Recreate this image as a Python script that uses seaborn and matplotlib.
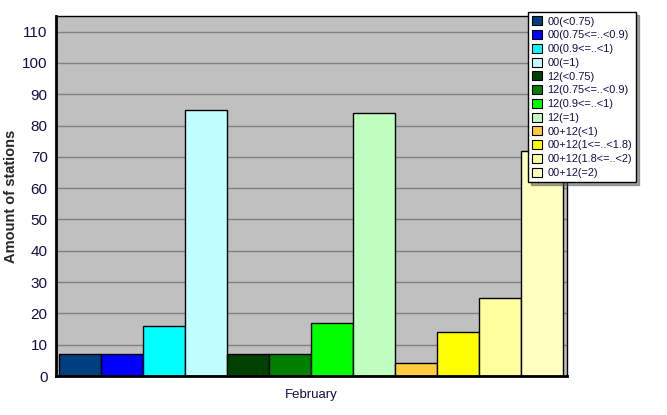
import pandas as pd
import matplotlib
matplotlib.use("Agg")
import matplotlib.pyplot as plt
import seaborn as sns

# Data
month = ["February"]
series = ['00(<0.75)', '00(0.75<=..<0.9)', '00(0.9<=..<1)', '00(=1)',
          '12(<0.75)', '12(0.75<=..<0.9)', '12(0.9<=..<1)', '12(=1)',
          '00+12(<1)', '00+12(1<=..<1.8)', '00+12(1.8<=..<2)', '00+12(=2)']
counts = [7, 7, 16, 85, 7, 7, 17, 84, 4, 14, 25, 72]
colors = ['#003F7F', '#0000FF', '#00FFFF', '#C0FFFF',
          '#004000', '#008000', '#00FF00', '#C0FFC0',
          '#FFCC40', '#FFFF00', '#FFFFA0', '#FFFFC0']
yticks = list(range(0, 111, 10))

df = pd.DataFrame({"month": month * len(series), "series": series, "count": counts})

sns.set_style("white")
plt.rcParams['font.family'] = ['Liberation Sans', 'DejaVu Sans']
text_color = '#10104a'

fig = plt.figure(figsize=(6.67, 4.15), dpi=100)
ax = fig.add_axes([56 / 667, 1 - 376 / 415, 511 / 667, 360 / 415])
ax.set_facecolor('#C0C0C0')

sns.barplot(data=df, x="month", y="count", hue="series", hue_order=series,
            palette=colors, width=1.0, edgecolor='black', linewidth=1.0,
            saturation=1, ax=ax, legend=False)

ax.set_xlim(-0.506, 0.508)
ax.set_ylim(0, 115)
ax.set_yticks(yticks)
ax.set_yticks(range(0, 115, 2), minor=True)
ax.yaxis.grid(True, color='#808080', linewidth=1)
ax.set_axisbelow(True)
ax.tick_params(axis='y', which='major', length=4, width=1, color='#606060',
               labelsize=11, labelcolor=text_color, pad=2)
ax.tick_params(axis='y', which='minor', length=2, width=1, color='#606060')
ax.tick_params(axis='x', length=0, labelsize=9.5, labelcolor=text_color, pad=9)
ax.set_xlabel("")
ax.set_ylabel("Amount of stations", fontsize=10.5, fontweight='bold')
ax.yaxis.set_label_coords(-0.074, 0.5)

for side in ['left', 'bottom']:
    ax.spines[side].set_linewidth(2)
    ax.spines[side].set_color('black')
for side in ['top', 'right']:
    ax.spines[side].set_linewidth(1)
    ax.spines[side].set_color('black')
    ax.spines[side].set_visible(True)

handles = [plt.Rectangle((0, 0), 1, 1, facecolor=c, edgecolor='black', linewidth=0.8)
           for c in colors]
leg = fig.legend(handles, series, loc='upper left',
                 bbox_to_anchor=(528 / 667, 1 - 12 / 415),
                 fontsize=7.9, handlelength=0.9, handleheight=0.9,
                 handletextpad=0.45, labelspacing=0.31, borderpad=0.4,
                 borderaxespad=0, frameon=True, fancybox=False, shadow=True,
                 framealpha=1)
leg.get_frame().set_edgecolor('black')
leg.get_frame().set_linewidth(1)
for t in leg.get_texts():
    t.set_color(text_color)

fig.savefig("out.png", dpi=100)
